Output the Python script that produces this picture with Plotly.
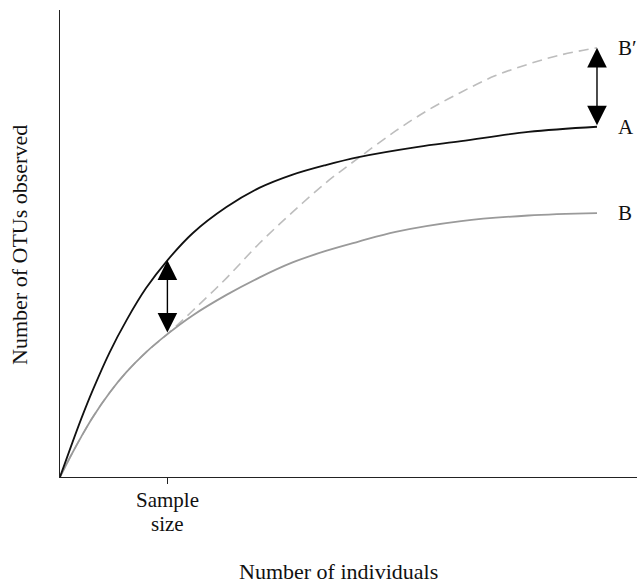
import plotly.graph_objects as go

# Rarefaction curves: number of OTUs observed vs number of individuals sampled
a_x = [0, 2, 4, 6.1, 9.2, 12.4, 16, 20, 24.7, 31, 37.1, 43.2, 49.5, 55.6, 66.7, 74.7, 87.2, 100]
a_y = [0, 6.4, 12.6, 18.6, 26.6, 33.6, 40.4, 46.4, 52.2, 57.8, 61.9, 64.7, 66.8, 68.5, 70.7, 71.9, 73.9, 75.0]

b_x = [0, 2, 4, 6.1, 9.2, 12.4, 16, 20, 24.7, 31, 37.1, 43.2, 49.5, 55.6, 62.5, 74.7, 87.2, 100]
b_y = [0, 4.5, 8.7, 12.8, 18.0, 22.5, 26.7, 30.6, 34.6, 39.0, 42.7, 45.9, 48.4, 50.4, 52.5, 54.8, 56.0, 56.5]

# B' : extrapolation of B beyond the sample size
bp_x = [0, 2, 4, 6.1, 9.2, 12.4, 16, 20, 24.7, 31, 37.1, 43.2, 49.5, 55.1, 62.5, 68.6, 74.7, 81, 87.2, 93.3, 100]
bp_y = [0, 4.5, 8.7, 12.8, 18.0, 22.5, 26.7, 30.6, 35.6, 42.6, 50.0, 56.6, 63.0, 67.9, 74.1, 78.6, 82.4, 85.9, 88.4, 90.4, 91.9]

sample_size = 20
sample_label = ["Sample", "size"]
curve_labels = ["A", "B", "B\u2032"]

SERIF = "Liberation Serif"
SMOOTH = 1.0

fig = go.Figure()
fig.add_trace(go.Scatter(x=bp_x, y=bp_y, mode="lines",
                         line=dict(color="#bdbdbd", width=1.6, dash="10px,6px",
                                   shape="spline", smoothing=SMOOTH),
                         hoverinfo="skip"))
fig.add_trace(go.Scatter(x=b_x, y=b_y, mode="lines",
                         line=dict(color="#9a9a9a", width=1.8,
                                   shape="spline", smoothing=SMOOTH),
                         hoverinfo="skip"))
fig.add_trace(go.Scatter(x=a_x, y=a_y, mode="lines",
                         line=dict(color="#111111", width=1.8,
                                   shape="spline", smoothing=SMOOTH),
                         hoverinfo="skip"))

arrow_common = dict(xref="x", yref="y", axref="x", ayref="y", text="",
                    showarrow=True, arrowhead=2, startarrowhead=2,
                    arrowside="end+start", arrowsize=2.8, startarrowsize=2.8,
                    arrowwidth=1.4, arrowcolor="#000000")
annotations = [
    dict(x=sample_size, y=a_y[a_x.index(sample_size)],
         ax=sample_size, ay=b_y[b_x.index(sample_size)], **arrow_common),
    dict(x=a_x[-1], y=bp_y[-1], ax=a_x[-1], ay=a_y[-1], **arrow_common),
]

ends = [a_y[-1], b_y[-1], bp_y[-1]]
for lab, yv in zip(curve_labels, ends):
    annotations.append(dict(x=103.6, y=yv, xref="x", yref="y", text=lab,
                            showarrow=False, xanchor="left", yanchor="middle",
                            font=dict(family=SERIF, size=21, color="#111")))

# two-line label under the sample-size tick
for line_txt, ypos in zip(sample_label, [-0.050, -0.101]):
    annotations.append(dict(x=sample_size, y=ypos, xref="x", yref="paper",
                            text=line_txt, showarrow=False,
                            xanchor="center", yanchor="middle",
                            font=dict(family=SERIF, size=21, color="#111")))

annotations.append(dict(x=0.482, y=-0.203, xref="paper", yref="paper",
                        text="Number of individuals", showarrow=False,
                        xanchor="center", yanchor="middle",
                        font=dict(family=SERIF, size=22, color="#111")))
annotations.append(dict(x=-0.0693, y=0.497, xref="paper", yref="paper",
                        text="Number of OTUs observed", showarrow=False,
                        textangle=-90, xanchor="center", yanchor="middle",
                        font=dict(family=SERIF, size=22, color="#111")))

fig.update_layout(
    width=637, height=585,
    margin=dict(l=60, r=0, t=10, b=108),
    paper_bgcolor="white", plot_bgcolor="white",
    showlegend=False,
    font=dict(family=SERIF),
    annotations=annotations,
    xaxis=dict(range=[0, 107.45], showgrid=False, zeroline=False,
               showline=True, linecolor="#222", linewidth=1.3,
               tickvals=[sample_size], ticktext=[""], ticks="outside",
               ticklen=6, tickwidth=1.2, tickcolor="#222"),
    yaxis=dict(range=[0, 100], showgrid=False, zeroline=False,
               showline=True, linecolor="#222", linewidth=1.3,
               showticklabels=False, ticks=""),
)

fig.write_html("out.html")
